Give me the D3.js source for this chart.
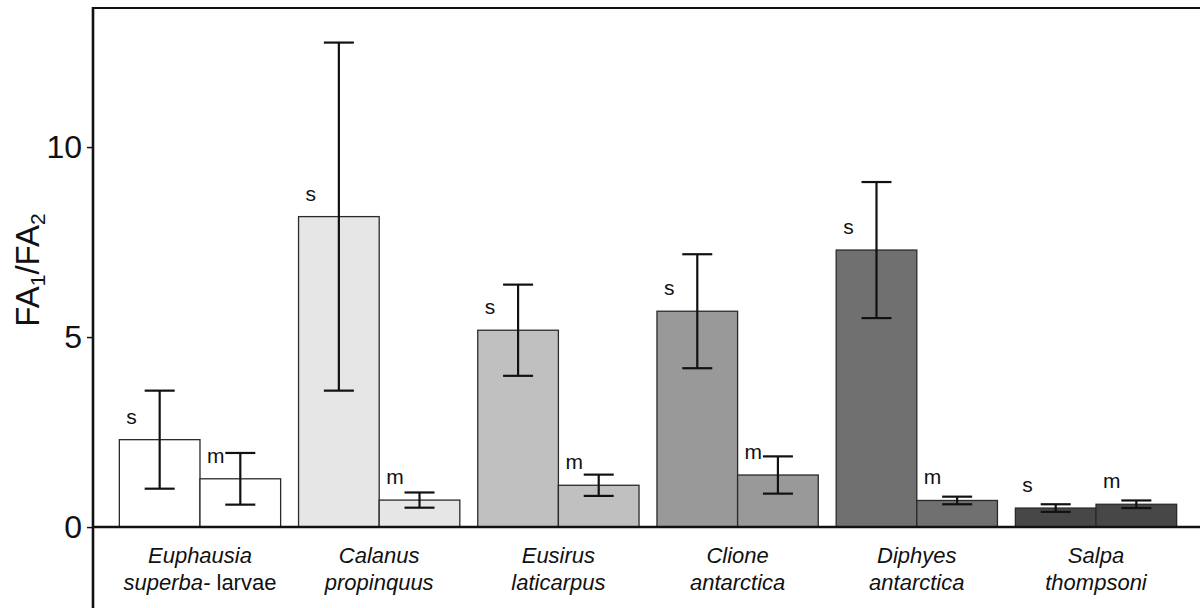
<!DOCTYPE html>
<html><head><meta charset="utf-8">
<script src="https://cdn.jsdelivr.net/npm/d3@7"></script>
<style>body{margin:0;background:#fff}svg{display:block}text{font-family:"Liberation Sans",Arial,sans-serif}</style>
</head><body>
<svg id="c" width="1200" height="608"></svg>
<script>
const categories = ["Euphausia superba- larvae","Calanus propinquus","Eusirus laticarpus","Clione antarctica","Diphyes antarctica","Salpa thompsoni"];
const labelLine1 = ["Euphausia","Calanus","Eusirus","Clione","Diphyes","Salpa"];
const labelLine2Italic = ["superba-","propinquus","laticarpus","antarctica","antarctica","thompsoni"];
const labelLine2Plain = [" larvae","","","","",""];
const seriesKeys = ["s","m"];
const sMean = [2.3, 8.17, 5.18, 5.68, 7.29, 0.5];
const sErr  = [1.29, 4.58, 1.2, 1.5, 1.79, 0.1];
const mMean = [1.27, 0.71, 1.1, 1.37, 0.7, 0.6];
const mErr  = [0.68, 0.2, 0.28, 0.49, 0.1, 0.1];
const groupColors = ["#ffffff","#e6e6e6","#c0c0c0","#999999","#707070","#474747"];
const yTicks = [0, 5, 10];

const svg = d3.select("#c");
const x0 = d3.scaleBand().domain(categories).range([93, 1203]).paddingInner(0.1).paddingOuter(0.147);
const x1 = d3.scaleBand().domain(seriesKeys).range([0, x0.bandwidth()]);
const y = d3.scaleLinear().domain([-2.13, 13.66]).range([608, 8]);

const data = [];
categories.forEach((c, i) => {
  data.push({cat: c, key: "s", v: sMean[i], e: sErr[i], color: groupColors[i]});
  data.push({cat: c, key: "m", v: mMean[i], e: mErr[i], color: groupColors[i]});
});

// bars
svg.append("g").selectAll("rect").data(data).join("rect")
  .attr("x", d => x0(d.cat) + x1(d.key))
  .attr("y", d => y(d.v))
  .attr("width", x1.bandwidth())
  .attr("height", d => y(0) - y(d.v))
  .attr("fill", d => d.color)
  .attr("stroke", "#2a2a2a").attr("stroke-width", 1.3);

// error bars
const eb = svg.append("g").attr("stroke", "#111").attr("stroke-width", 2.2);
data.forEach(d => {
  const cx = x0(d.cat) + x1(d.key) + x1.bandwidth() / 2;
  eb.append("line").attr("x1", cx).attr("x2", cx).attr("y1", y(d.v + d.e)).attr("y2", y(d.v - d.e));
  [d.v + d.e, d.v - d.e].forEach(v => {
    eb.append("line").attr("x1", cx - 15).attr("x2", cx + 15).attr("y1", y(v)).attr("y2", y(v));
  });
});

// s / m labels
svg.append("g").selectAll("text").data(data).join("text")
  .attr("x", d => x0(d.cat) + x1(d.key) + 7)
  .attr("y", d => y(d.v) - 16)
  .attr("font-size", 21).attr("fill", "#111")
  .text(d => d.key);

// frame
svg.append("line").attr("x1", 93).attr("x2", 1200).attr("y1", 8).attr("y2", 8).attr("stroke", "#111").attr("stroke-width", 2.2);
svg.append("line").attr("x1", 93).attr("x2", 93).attr("y1", 7).attr("y2", 608).attr("stroke", "#111").attr("stroke-width", 2.6);
svg.append("line").attr("x1", 93).attr("x2", 1200).attr("y1", y(0)).attr("y2", y(0)).attr("stroke", "#111").attr("stroke-width", 2.6);

// y axis
const ya = svg.append("g").attr("transform", "translate(93,0)")
  .call(d3.axisLeft(y).tickValues(yTicks).tickSize(6).tickPadding(5).tickFormat(d3.format("d")));
ya.select(".domain").remove();
ya.selectAll("line").attr("stroke", "#111").attr("stroke-width", 1.5);
ya.selectAll("text").attr("font-size", 32).attr("fill", "#111").attr("font-family", "Liberation Sans, Arial, sans-serif");

// y label
const yl = svg.append("text").attr("transform", "translate(39,270) rotate(-90)")
  .attr("text-anchor", "middle").attr("font-size", 33).attr("fill", "#111");
yl.append("tspan").text("FA");
yl.append("tspan").attr("font-size", 21).attr("dy", 6).text("1");
yl.append("tspan").attr("dy", -6).text("/FA");
yl.append("tspan").attr("font-size", 21).attr("dy", 6).text("2");

// x labels
const xl = svg.append("g");
categories.forEach((c, i) => {
  const cx = x0(c) + x0.bandwidth() / 2;
  xl.append("text").attr("x", cx).attr("y", 563).attr("text-anchor", "middle")
    .attr("font-size", 22).attr("font-style", "italic").attr("fill", "#111").text(labelLine1[i]);
  const t = xl.append("text").attr("x", cx).attr("y", 590).attr("text-anchor", "middle")
    .attr("font-size", 22).attr("fill", "#111");
  t.append("tspan").attr("font-style", "italic").text(labelLine2Italic[i]);
  if (labelLine2Plain[i]) t.append("tspan").text(labelLine2Plain[i]);
});
</script>
</body></html>
